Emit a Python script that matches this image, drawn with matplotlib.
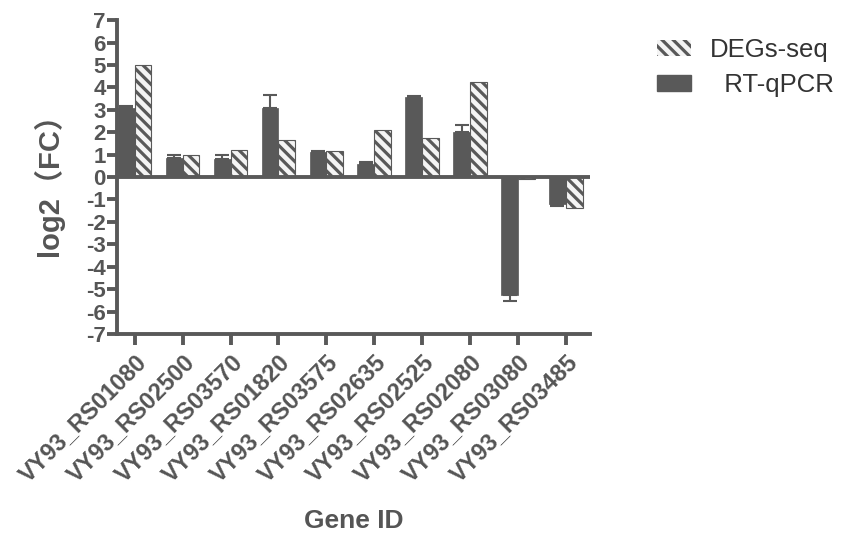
import numpy as np
import matplotlib
matplotlib.use("Agg")
import matplotlib.pyplot as plt
from matplotlib.patches import Patch

genes = ["VY93_RS01080", "VY93_RS02500", "VY93_RS03570", "VY93_RS01820",
         "VY93_RS03575", "VY93_RS02635", "VY93_RS02525", "VY93_RS02080",
         "VY93_RS03080", "VY93_RS03485"]
rt_qpcr = [3.10, 0.85, 0.80, 3.10, 1.12, 0.60, 3.58, 2.00, -5.25, -1.22]
rt_err = [0.08, 0.15, 0.20, 0.55, 0.03, 0.05, 0.05, 0.30, 0.30, 0.08]
degs_seq = [5.00, 1.00, 1.20, 1.65, 1.15, 2.10, 1.75, 4.25, -0.08, -1.40]

GRAY = "#595959"
TXT = "#555555"
plt.rcParams["hatch.linewidth"] = 2.3
plt.rcParams["font.family"] = ["Liberation Sans", "Noto Sans CJK SC"]

fig = plt.figure(figsize=(8.51, 5.43), dpi=100)
ax = fig.add_axes([0.1375, 0.385, 0.693 - 0.1375, 0.963 - 0.385])

x = np.arange(len(genes))
w = 0.35
ax.bar(x - w / 2, rt_qpcr, w, color=GRAY, edgecolor=GRAY, linewidth=0.5,
       zorder=2)
ax.bar(x + w / 2, degs_seq, w, color="#f4f4f4", edgecolor=GRAY, linewidth=0.8,
       hatch="\\\\\\", zorder=2)

lo = [e if v < 0 else 0 for v, e in zip(rt_qpcr, rt_err)]
hi = [e if v >= 0 else 0 for v, e in zip(rt_qpcr, rt_err)]
ax.errorbar(x - w / 2, rt_qpcr, yerr=[lo, hi], fmt="none", ecolor=GRAY,
            elinewidth=1.5, capsize=5, capthick=1.5, zorder=3)

ax.axhline(0, color=GRAY, linewidth=2.8, zorder=4)

ax.set_xlim(-0.37, 9.5)
ax.set_ylim(-7, 7)
ax.set_yticks(np.arange(-7, 8, 1))
ax.set_yticklabels([str(v) for v in range(-7, 8)], fontsize=16,
                   fontweight="bold", color=TXT)
ax.set_xticks(x)
ax.set_xticklabels(genes, rotation=45, ha="right", rotation_mode="anchor",
                   fontsize=17, fontweight="bold", color=TXT)

for s in ["top", "right"]:
    ax.spines[s].set_visible(False)
for s in ["left", "bottom"]:
    ax.spines[s].set_linewidth(2.8)
    ax.spines[s].set_color(GRAY)
ax.tick_params(axis="y", direction="out", length=7, width=2.8, color=GRAY,
               pad=1)
ax.tick_params(axis="x", direction="out", length=8, width=2.8, color=GRAY,
               pad=4)

ax.set_ylabel("log2（FC）", fontsize=21, fontweight="bold", color=TXT,
              labelpad=16)
ax.set_xlabel("Gene ID", fontsize=19, fontweight="bold", color=TXT,
              labelpad=16)

handles = [Patch(facecolor="#f4f4f4", edgecolor=GRAY, hatch="\\\\\\",
                 linewidth=0, label="DEGs-seq"),
           Patch(facecolor=GRAY, edgecolor=GRAY, label="  RT-qPCR")]
fig.legend(handles=handles, loc="upper left", bbox_to_anchor=(0.745, 0.972),
           frameon=False, fontsize=18.5, handlelength=1.3, handleheight=0.55,
           labelspacing=0.42, handletextpad=0.75, labelcolor="#333333")

fig.savefig("out.png", dpi=100)
